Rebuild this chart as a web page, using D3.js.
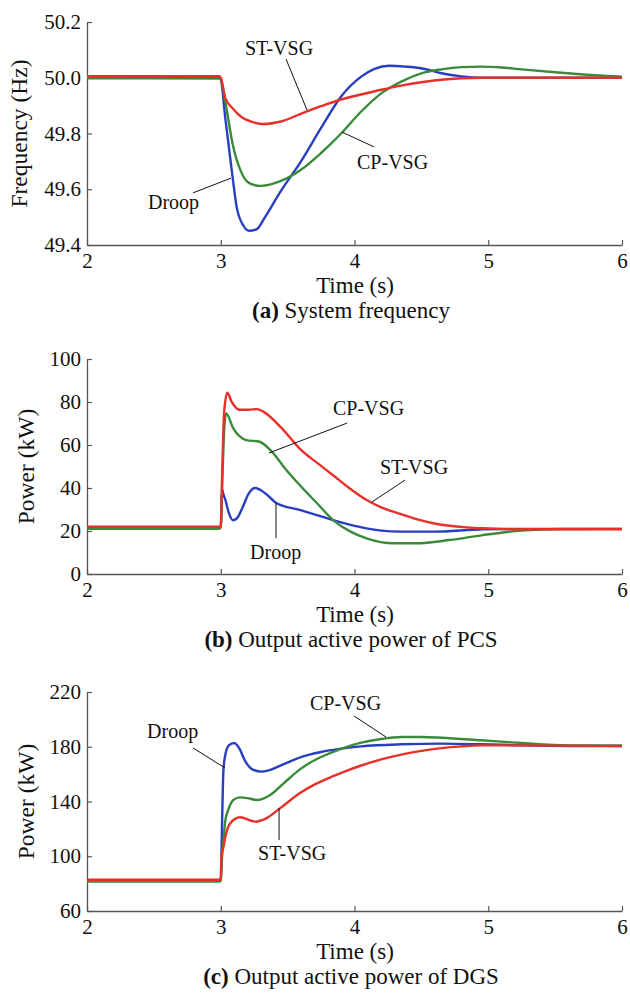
<!DOCTYPE html>
<html><head><meta charset="utf-8">
<script src="https://cdn.jsdelivr.net/npm/d3@7"></script>
<style>
body{margin:0;background:#fff;}
svg{display:block;}
text{font-family:"Liberation Serif","Times New Roman",serif;fill:#111;}
</style></head><body>
<svg id="chart" width="630" height="997"></svg>
<script>
// ---------- data (time in s) ----------
const timeTicks = [2, 3, 4, 5, 6];

// (a) System frequency (Hz)
const freqTicks = [49.4, 49.6, 49.8, 50.0, 50.2];
const freqDroop = [[2,50.0],[2.99,50.0],[3.0,49.995],[3.034,49.855],[3.08,49.677],[3.12,49.534],[3.17,49.469],[3.213,49.451],[3.27,49.457],[3.33,49.499],[3.45,49.594],[3.6,49.70],[3.75,49.82],[3.9,49.933],[4.05,50.004],[4.15,50.032],[4.26,50.043],[4.38,50.04],[4.5,50.034],[4.65,50.016],[4.8,50.005],[4.95,50.0],[6,50.0]];
const freqCP = [[2,49.998],[2.99,49.997],[3.0,49.995],[3.034,49.915],[3.09,49.76],[3.15,49.665],[3.21,49.623],[3.30,49.612],[3.45,49.63],[3.6,49.67],[3.75,49.73],[3.9,49.80],[4.05,49.879],[4.2,49.944],[4.35,49.986],[4.5,50.016],[4.65,50.03],[4.8,50.038],[4.95,50.04],[5.1,50.037],[5.25,50.03],[5.55,50.018],[5.8,50.009],[6,50.004]];
const freqST = [[2,50.006],[2.99,50.006],[3.0,50.0],[3.034,49.927],[3.09,49.89],[3.15,49.861],[3.24,49.841],[3.32,49.834],[3.45,49.843],[3.63,49.877],[3.75,49.898],[3.9,49.922],[4.05,49.94],[4.2,49.957],[4.35,49.972],[4.5,49.984],[4.65,49.993],[4.8,49.998],[4.95,50.0],[6,50.0]];

// (b) Output active power of PCS (kW)
const pcsTicks = [0, 20, 40, 60, 80, 100];
const pcsDroop = [[2,21.5],[2.99,21.5],[3.0,22],[3.01,39.5],[3.02,37],[3.034,34.6],[3.06,28.5],[3.09,25],[3.12,25.8],[3.16,30.5],[3.21,37.5],[3.256,40],[3.33,37.7],[3.418,32.9],[3.59,29.8],[3.75,26.8],[3.84,25.1],[3.95,23.2],[4.09,21.2],[4.2,20.2],[4.34,19.7],[4.59,19.7],[4.96,20.8],[5.3,21],[6,21]];
const pcsCP = [[2,21],[2.99,21],[3.0,22],[3.012,44],[3.025,66],[3.04,74.7],[3.094,67.7],[3.19,62.3],[3.29,61.5],[3.37,57.7],[3.49,48.4],[3.59,41.4],[3.72,32.9],[3.84,25.1],[3.97,19.7],[4.09,16.6],[4.29,14.3],[4.46,14.3],[4.71,15.8],[4.96,18.1],[5.25,20.2],[5.55,20.9],[6,21]];
const pcsST = [[2,22],[2.99,22],[3.0,21.5],[3.01,45],[3.025,75],[3.049,84.3],[3.08,80.3],[3.14,76.4],[3.21,76.4],[3.27,76.7],[3.318,75.5],[3.45,68.2],[3.592,58.2],[3.75,50.3],[3.842,45.8],[3.96,40],[4.091,34.4],[4.2,31],[4.34,28],[4.45,25.8],[4.589,23.6],[4.84,21.7],[5.0,21.2],[5.25,20.8],[6,20.8]];

// (c) Output active power of DGS (kW)
const dgsTicks = [60, 100, 140, 180, 220];
const dgsDroop = [[2,82.5],[2.99,82.5],[3.0,83],[3.01,125],[3.02,162.8],[3.034,174],[3.06,181],[3.10,182.7],[3.14,178.6],[3.18,170],[3.24,163.3],[3.306,161.8],[3.36,162.8],[3.45,166.4],[3.6,172.5],[3.75,176.2],[3.9,178.6],[4.05,180.3],[4.35,181.8],[4.65,182.3],[4.95,181.8],[5.25,181],[5.6,180.5],[6,180.5]];
const dgsCP = [[2,81.5],[2.99,81.5],[3.0,82],[3.01,100],[3.02,111.6],[3.034,126],[3.06,135],[3.094,141.1],[3.144,143],[3.2,142.5],[3.27,141.1],[3.37,144.8],[3.47,153.3],[3.6,164],[3.67,168.5],[3.75,172.5],[3.9,178.5],[4.05,183],[4.2,185.7],[4.35,187.1],[4.5,187.1],[4.65,186.6],[4.95,184.7],[5.25,182.7],[5.6,181],[6,180.8]];
const dgsST = [[2,82.8],[2.99,82.8],[3.0,83],[3.005,99.7],[3.02,106.7],[3.034,114],[3.07,124],[3.144,128.5],[3.256,125.3],[3.34,127.7],[3.443,135],[3.59,146],[3.7,152.3],[3.84,158.5],[3.95,162.8],[4.05,166.3],[4.2,170.8],[4.35,174.3],[4.5,177],[4.65,179],[4.8,180.3],[4.95,181],[5.25,181],[6,180.5]];

// annotation labels: [text, t, value, leader t1, v1, t2, v2]
const annotA = [["ST-VSG",3.181,50.082,3.488,50.067,3.645,49.884],["CP-VSG",4.019,49.673,4.146,49.752,3.907,49.805],["Droop",2.456,49.529,2.793,49.587,3.077,49.640]];
const annotB = [["CP-VSG",3.839,74,3.944,70.2,3.361,56.3],["ST-VSG",4.19,46.5,4.378,43.7,4.131,33.5],["Droop",3.219,7,3.413,33,3.413,16.7]];
const annotC = [["CP-VSG",3.667,206.8,3.996,202.5,4.236,187.1],["Droop",2.449,186.4,2.793,179.1,3.032,164.5],["ST-VSG",3.279,97.3,3.436,135.3,3.436,111.9]];

const colors = {droop:"#2a3fbf", cp:"#3a8a3a", st:"#e8302a"};

// ---------- drawing ----------
const svg = d3.select("#chart");

const panels = [
  {top:22, bottom:245, domain:[49.4,50.2], ticks:freqTicks, fmt:d3.format(".1f"), ylabel:"Frequency (Hz)", ylabelX:27,
   letter:"(a)", title:" System frequency", series:[freqDroop,freqCP,freqST], annot:annotA},
  {top:359, bottom:574, domain:[0,100], ticks:pcsTicks, fmt:d3.format("d"), ylabel:"Power (kW)", ylabelX:34,
   letter:"(b)", title:" Output active power of PCS", series:[pcsDroop,pcsCP,pcsST], annot:annotB},
  {top:692, bottom:911, domain:[60,220], ticks:dgsTicks, fmt:d3.format("d"), ylabel:"Power (kW)", ylabelX:34,
   letter:"(c)", title:" Output active power of DGS", series:[dgsDroop,dgsCP,dgsST], annot:annotC}
];

const x = d3.scaleLinear().domain([2,6]).range([87,622]);
const seriesColors = [colors.droop, colors.cp, colors.st];

panels.forEach(p => {
  const y = d3.scaleLinear().domain(p.domain).range([p.bottom, p.top]);
  const g = svg.append("g");

  const xAxis = d3.axisBottom(x).tickValues(timeTicks).tickFormat(d3.format("d"))
    .tickSizeInner(-5).tickSizeOuter(0).tickPadding(8);
  const yAxis = d3.axisLeft(y).tickValues(p.ticks).tickFormat(p.fmt)
    .tickSizeInner(-5).tickSizeOuter(0).tickPadding(6);

  const gx = g.append("g").attr("transform", `translate(0,${p.bottom})`).call(xAxis);
  const gy = g.append("g").attr("transform", `translate(${x.range()[0]},0)`).call(yAxis);
  [gx, gy].forEach(a => {
    a.selectAll("path.domain").attr("stroke", "#555").attr("stroke-width", 1.3);
    a.selectAll(".tick line").attr("stroke", "#555").attr("stroke-width", 1.2);
    a.selectAll(".tick text").attr("font-size", 21).attr("font-family", "Liberation Serif").attr("fill", "#111");
  });

  const line = d3.line().x(d => x(d[0])).y(d => y(d[1])).curve(d3.curveMonotoneX);
  p.series.forEach((s, i) => {
    g.append("path").datum(s).attr("d", line)
      .attr("fill", "none").attr("stroke", seriesColors[i])
      .attr("stroke-width", 2.4).attr("stroke-linejoin", "round");
  });

  p.annot.forEach(a => {
    g.append("line").attr("x1", x(a[3])).attr("y1", y(a[4])).attr("x2", x(a[5])).attr("y2", y(a[6]))
      .attr("stroke", "#111").attr("stroke-width", 1);
    g.append("text").attr("x", x(a[1])).attr("y", y(a[2])).attr("font-size", 20).text(a[0]);
  });

  // y label
  g.append("text").attr("transform", `translate(${p.ylabelX},${(p.top + p.bottom) / 2}) rotate(-90)`)
    .attr("text-anchor", "middle").attr("font-size", 23.5).text(p.ylabel);
  // x label
  g.append("text").attr("x", 355).attr("y", p.bottom + 48).attr("text-anchor", "middle")
    .attr("font-size", 23).text("Time (s)");
  // caption
  const t = g.append("text").attr("x", 351).attr("y", p.bottom + 73).attr("text-anchor", "middle").attr("font-size", 23);
  t.append("tspan").attr("font-weight", "bold").text(p.letter);
  t.append("tspan").text(p.title);
});
</script>
</body></html>
